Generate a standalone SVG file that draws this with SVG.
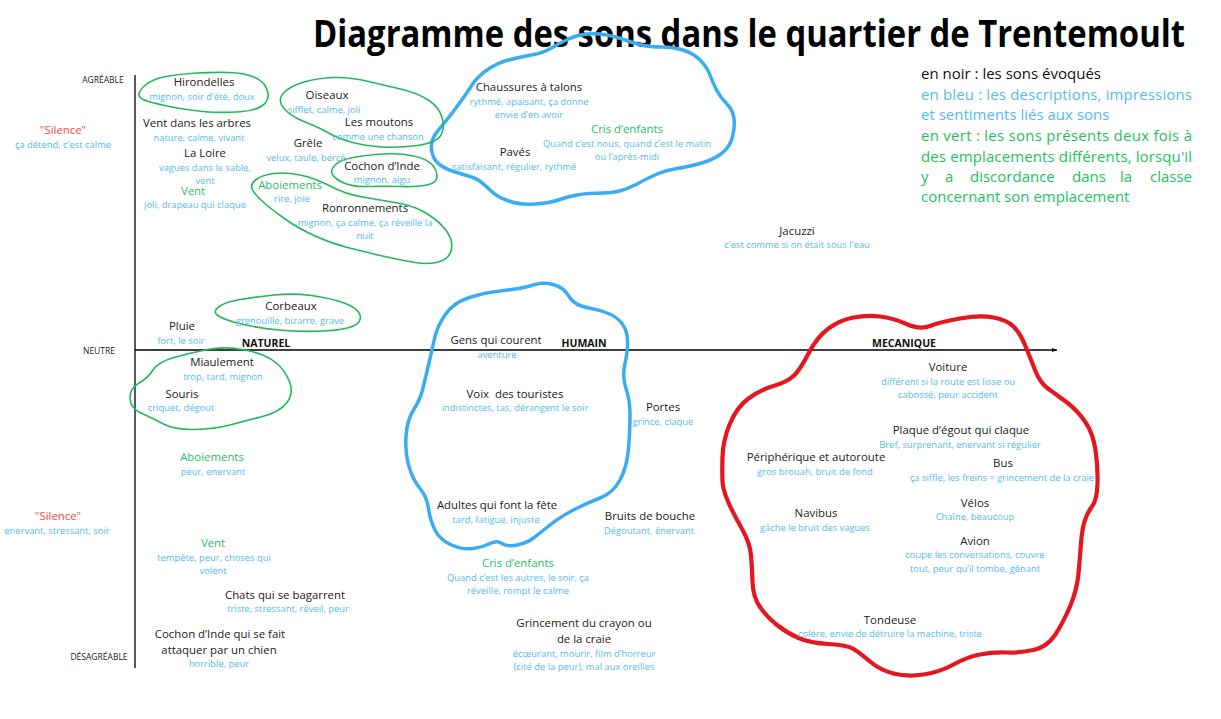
<svg xmlns="http://www.w3.org/2000/svg" width="1221" height="719" viewBox="0 0 1221 719">
<style>
text{font-family:"Open Sans","Noto Sans","Liberation Sans",sans-serif;text-anchor:middle}
.k{fill:#222;font-size:11.4px}
.b{fill:#55baf2;font-size:9.4px}
.g{fill:#1fbf5f;font-size:11.4px}
.r{fill:#ff4343;font-size:11.4px}
.ax{fill:#222;font-size:8.5px}
.cat{fill:#111;font-size:10.5px;font-weight:bold}
.leg{font-size:15px;text-anchor:start}
.cg{fill:none;stroke:#22b85c;stroke-width:1.6}
.cb{fill:none;stroke:#3aacf2;stroke-width:3.5}
.cr{fill:none;stroke:#e5161d;stroke-width:4.2}
</style>
<defs>
<marker id="arr" markerWidth="6" markerHeight="6" refX="5" refY="3" orient="auto" markerUnits="userSpaceOnUse">
<path d="M0,1 L5,3 L0,5 Z" fill="#000"/>
</marker>
</defs>
<rect width="1221" height="719" fill="#fff"/>

<g id="title">
<text x="749" y="47" style="font-size:38px;font-weight:bold;fill:#000" textLength="872" lengthAdjust="spacingAndGlyphs">Diagramme des sons dans le quartier de Trentemoult</text>
</g>

<g id="connectors">
<line x1="135" y1="75" x2="135" y2="668" stroke="#000" stroke-width="1.3"/>
<line x1="135" y1="350" x2="1057" y2="350" stroke="#000" stroke-width="1.3" marker-end="url(#arr)"/>
</g>

<g id="clouds">
<path class="cb" d="M431.5,150 Q430,140 438.5,130 Q447,120 457,106.5 Q467,93 472,85 Q477,77 487,70 Q497,63 508.5,60 Q520,57 531.5,55 Q543,53 551.5,48 Q560,43 568.5,39 Q577,35 587,34 Q597,33 607,35 Q617,37 625,40 Q633,43 641.5,45 Q650,47 661.5,47 Q673,47 683,50 Q693,53 700,60 Q707,67 710,75 Q713,83 716.5,90 Q720,97 726.5,103.5 Q733,110 734,118.5 Q735,127 732.5,137 Q730,147 721.5,153.5 Q713,160 700,163.5 Q687,167 677,168.5 Q667,170 658.5,173.5 Q650,177 635,185 Q620,193 603.5,193 Q587,193 577,195 Q567,197 558.5,200 Q550,203 535,204 Q520,205 508.5,201 Q497,197 490,190 Q483,183 478,180 Q473,177 460,173.5 Q447,170 440,165 Q433,160 431.5,150 Z"/>
<path class="cb" d="M428.5,365 Q432,350 434.5,338.5 Q437,327 445,315 Q453,303 468,298 Q483,293 496.5,291.5 Q510,290 518.5,288.5 Q527,287 535,284.5 Q543,282 553,284.5 Q563,287 568,295 Q573,303 580,305.5 Q587,308 593.5,309 Q600,310 608.5,313.5 Q617,317 622,323.5 Q627,330 627.5,340 Q628,350 625,363.5 Q622,377 626,388.5 Q630,400 630,415 Q630,430 628.5,448.5 Q627,467 620,480 Q613,493 600,498 Q587,503 573.5,510 Q560,517 550,525 Q540,533 533.5,538 Q527,543 517,545 Q507,547 502,543.5 Q497,540 490,543.5 Q483,547 473,548.5 Q463,550 451.5,545 Q440,540 435,530 Q430,520 428.5,508.5 Q427,497 420,488.5 Q413,480 409,466.5 Q405,453 406,436.5 Q407,420 413.5,410 Q420,400 422.5,390 Q425,380 428.5,365 Z"/>
<path class="cr" d="M828.5,328.5 Q840,320 853.5,317.5 Q867,315 880,316.5 Q893,318 906.5,324 Q920,330 930,326 Q940,322 960,318.5 Q980,315 993.5,317.5 Q1007,320 1013.5,326.5 Q1020,333 1025,345 Q1030,357 1035,370 Q1040,383 1048.5,389 Q1057,395 1067,402.5 Q1077,410 1085,421.5 Q1093,433 1095.5,450 Q1098,467 1097.5,483.5 Q1097,500 1092,506.5 Q1087,513 1084.5,521.5 Q1082,530 1081,543.5 Q1080,557 1078.5,573.5 Q1077,590 1070,606.5 Q1063,623 1055,635 Q1047,647 1033.5,650 Q1020,653 1006.5,652.5 Q993,652 980,654.5 Q967,657 953.5,664.5 Q940,672 923.5,674.5 Q907,677 893.5,673.5 Q880,670 870,661.5 Q860,653 853.5,649 Q847,645 828.5,644 Q810,643 798.5,638 Q787,633 777,625 Q767,617 760,607 Q753,597 752.5,582 Q752,567 751,555 Q750,543 741.5,528 Q733,513 728,501.5 Q723,490 722.5,481.5 Q722,473 722.5,456.5 Q723,440 730,423.5 Q737,407 748.5,398.5 Q760,390 773.5,386 Q787,382 793.5,376 Q800,370 808.5,353.5 Q817,337 828.5,328.5 Z"/>
<path class="cg" d="M139,95.5 Q138,92 145,85.5 Q152,79 166,76.5 Q180,74 196.5,73 Q213,72 229,72.5 Q245,73 255,77.5 Q265,82 267.5,91 Q270,100 262.5,105.5 Q255,111 236.5,112 Q218,113 202.5,111.5 Q187,110 172,107 Q157,104 148.5,101.5 Q140,99 139,95.5 Z"/>
<path class="cg" d="M283.5,108 Q277,100 283.5,93 Q290,86 304,82 Q318,78 334,77.5 Q350,77 366.5,81 Q383,85 400.5,89 Q418,93 429,100.5 Q440,108 442.5,119 Q445,130 440,136.5 Q435,143 417.5,145.5 Q400,148 382.5,147 Q365,146 351,142 Q337,138 328.5,133 Q320,128 305,122 Q290,116 283.5,108 Z"/>
<path class="cg" d="M332.5,174.5 Q330,170 335,165 Q340,160 353.5,157.5 Q367,155 383.5,154 Q400,153 413.5,156 Q427,159 432,164.5 Q437,170 437,176.5 Q437,183 427,185 Q417,187 400,186.5 Q383,186 368,186.5 Q353,187 344,183 Q335,179 332.5,174.5 Z"/>
<path class="cg" d="M253.5,191.5 Q249,185 255.5,180 Q262,175 273.5,173.5 Q285,172 300,175 Q315,178 330,186 Q345,194 362.5,197 Q380,200 397.5,203 Q415,206 427.5,214 Q440,222 446.5,231 Q453,240 451.5,249 Q450,258 440,261.5 Q430,265 415,262.5 Q400,260 382.5,256 Q365,252 347.5,247.5 Q330,243 314,235.5 Q298,228 286.5,220 Q275,212 266.5,205 Q258,198 253.5,191.5 Z"/>
<path class="cg" d="M218.5,316 Q212,312 218.5,307 Q225,302 240,299.5 Q255,297 274,295 Q293,293 311.5,295.5 Q330,298 344,303 Q358,308 360,315 Q362,322 353.5,326 Q345,330 322.5,331 Q300,332 279,330 Q258,328 241.5,324 Q225,320 218.5,316 Z"/>
<path class="cg" d="M130,398 Q130,388 139,383 Q148,378 153,370 Q158,362 174,357.5 Q190,353 207.5,349.5 Q225,346 245,350 Q265,354 275,362 Q285,370 289.5,381.5 Q294,393 287,402.5 Q280,412 262.5,416.5 Q245,421 230,425 Q215,429 195,429.5 Q175,430 163.5,424 Q152,418 141,413 Q130,408 130,398 Z"/>
</g>

<g id="axis-labels">
<text class="ax" x="103" y="83">AGRÉABLE</text>
<text class="ax" x="99" y="354">NEUTRE</text>
<text class="ax" x="99" y="660">DÉSAGRÉABLE</text>
<text class="cat" x="266" y="347">NATUREL</text>
<text class="cat" x="584" y="347">HUMAIN</text>
<text class="cat" x="904" y="347">MECANIQUE</text>
</g>

<g id="legend">
<text class="leg" x="921" y="79" fill="#111">en noir : les sons évoqués</text>
<text class="leg" x="921" y="100" fill="#55baf2" textLength="271">en bleu : les descriptions, impressions</text>
<text class="leg" x="921" y="120" fill="#55baf2">et sentiments liés aux sons</text>
<text class="leg" x="921" y="141" fill="#1fbf5f" textLength="271">en vert : les sons présents deux fois à</text>
<text class="leg" x="921" y="162" fill="#1fbf5f" textLength="271">des emplacements différents, lorsqu'il</text>
<text class="leg" x="921" y="182" fill="#1fbf5f">y</text>
<text class="leg" x="945" y="182" fill="#1fbf5f">a</text>
<text class="leg" x="970" y="182" fill="#1fbf5f">discordance</text>
<text class="leg" x="1072" y="182" fill="#1fbf5f">dans</text>
<text class="leg" x="1120" y="182" fill="#1fbf5f">la</text>
<text class="leg" x="1192" y="182" fill="#1fbf5f" style="text-anchor:end">classe</text>
<text class="leg" x="921" y="202" fill="#1fbf5f">concernant son emplacement</text>
</g>

<g id="silence-agreable"><text class="r" x="63" y="134">"Silence"</text><text class="b" x="63" y="148">ça détend, c'est calme</text></g>
<g id="hirondelles"><text class="k" x="204" y="86">Hirondelles</text><text class="b" x="202" y="100">mignon, soir d'été, doux</text></g>
<g id="vent-arbres"><text class="k" x="197" y="127">Vent dans les arbres</text><text class="b" x="199" y="141">nature, calme, vivant</text></g>
<g id="loire"><text class="k" x="205" y="157">La Loire</text><text class="b" x="205" y="171">vagues dans le sable,</text><text class="b" x="205" y="184">vent</text></g>
<g id="vent-agreable"><text class="g" x="193" y="195">Vent</text><text class="b" x="195" y="208">joli, drapeau qui claque</text></g>
<g id="oiseaux"><text class="k" x="327" y="99">Oiseaux</text><text class="b" x="324" y="113">sifflet, calme, joli</text></g>
<g id="moutons"><text class="k" x="379" y="126">Les moutons</text><text class="b" x="378" y="140">comme une chanson</text></g>
<g id="grele"><text class="k" x="308" y="147">Grêle</text><text class="b" x="306" y="161">velux, taule, bercé</text></g>
<g id="cochon-inde"><text class="k" x="382" y="170">Cochon d’Inde</text><text class="b" x="382" y="183">mignon, aigu</text></g>
<g id="aboiements-agreable"><text class="g" x="290" y="189">Aboiements</text><text class="b" x="292" y="202">rire, joie</text></g>
<g id="ronronnements"><text class="k" x="365" y="212">Ronronnements</text><text class="b" x="365" y="226">mignon, ça calme, ça réveille la</text><text class="b" x="365" y="239">nuit</text></g>
<g id="chaussures"><text class="k" x="529" y="91">Chaussures à talons</text><text class="b" x="529" y="105">rythmé, apaisant, ça donne</text><text class="b" x="529" y="118">envie d’en avoir</text></g>
<g id="cris-agreable"><text class="g" x="627" y="133">Cris d’enfants</text><text class="b" x="627" y="147">Quand c’est nous, quand c’est le matin</text><text class="b" x="627" y="160">ou l’après-midi</text></g>
<g id="paves"><text class="k" x="515" y="156">Pavés</text><text class="b" x="514" y="170">satisfaisant, régulier, rythmé</text></g>
<g id="jacuzzi"><text class="k" x="797" y="235">Jacuzzi</text><text class="b" x="797" y="248">c'est comme si on était sous l'eau</text></g>
<g id="corbeaux"><text class="k" x="291" y="310">Corbeaux</text><text class="b" x="290" y="324">grenouille, bizarre, grave</text></g>
<g id="pluie"><text class="k" x="182" y="330">Pluie</text><text class="b" x="181" y="344">fort, le soir</text></g>
<g id="miaulement"><text class="k" x="222" y="366">Miaulement</text><text class="b" x="223" y="380">trop, tard, mignon</text></g>
<g id="souris"><text class="k" x="182" y="398">Souris</text><text class="b" x="181" y="411">criquet, dégout</text></g>
<g id="gens"><text class="k" x="496" y="344">Gens qui courent</text><text class="b" x="497" y="358">aventure</text></g>
<g id="voix"><text class="k" x="515" y="398" xml:space="preserve">Voix  des touristes</text><text class="b" x="515" y="411">indistinctes, tas, dérangent le soir</text></g>
<g id="portes"><text class="k" x="663" y="411">Portes</text><text class="b" x="663" y="425">grince, claque</text></g>
<g id="adultes"><text class="k" x="497" y="509">Adultes qui font la fête</text><text class="b" x="496" y="523">tard, fatigue, injuste</text></g>
<g id="bouche"><text class="k" x="650" y="520">Bruits de bouche</text><text class="b" x="649" y="534">Dégoutant, énervant</text></g>
<g id="cris-desagreable"><text class="g" x="518" y="567">Cris d’enfants</text><text class="b" x="518" y="581">Quand c’est les autres, le soir, ça</text><text class="b" x="518" y="594">réveille, rompt le calme</text></g>
<g id="grincement"><text class="k" x="584" y="627">Grincement du crayon ou</text><text class="k" x="584" y="643">de la craie</text><text class="b" x="584" y="657">écœurant, mourir, film d’horreur</text><text class="b" x="584" y="670">(cité de la peur), mal aux oreilles</text></g>
<g id="aboiements-desagreable"><text class="g" x="212" y="461">Aboiements</text><text class="b" x="213" y="475">peur, enervant</text></g>
<g id="silence-desagreable"><text class="r" x="58" y="520">"Silence"</text><text class="b" x="57" y="534">enervant, stressant, soir</text></g>
<g id="vent-desagreable"><text class="g" x="213" y="547">Vent</text><text class="b" x="214" y="561">tempête, peur, choses qui</text><text class="b" x="213" y="574">volent</text></g>
<g id="chats"><text class="k" x="285" y="599">Chats qui se bagarrent</text><text class="b" x="288" y="612">triste, stressant, réveil, peur</text></g>
<g id="cochon-attaque"><text class="k" x="220" y="638">Cochon d’Inde qui se fait</text><text class="k" x="219" y="654">attaquer par un chien</text><text class="b" x="219" y="667">horrible, peur</text></g>
<g id="voiture"><text class="k" x="948" y="371">Voiture</text><text class="b" x="948" y="385">différent si la route est lisse ou</text><text class="b" x="948" y="398">cabossé, peur accident</text></g>
<g id="plaque"><text class="k" x="961" y="434">Plaque d’égout qui claque</text><text class="b" x="960" y="448">Bref, surprenant, enervant si régulier</text></g>
<g id="peripherique"><text class="k" x="816" y="461">Périphérique et autoroute</text><text class="b" x="815" y="475">gros brouah, bruit de fond</text></g>
<g id="bus"><text class="k" x="1003" y="467">Bus</text><text class="b" x="1002" y="481">ça siffle, les freins = grincement de la craie</text></g>
<g id="velos"><text class="k" x="975" y="507">Vélos</text><text class="b" x="975" y="520">Chaîne, beaucoup</text></g>
<g id="navibus"><text class="k" x="816" y="517">Navibus</text><text class="b" x="815" y="531">gâche le bruit des vagues</text></g>
<g id="avion"><text class="k" x="975" y="545">Avion</text><text class="b" x="975" y="558">coupe les conversations, couvre</text><text class="b" x="975" y="572">tout, peur qu’il tombe, gênant</text></g>
<g id="tondeuse"><text class="k" x="890" y="624">Tondeuse</text><text class="b" x="890" y="637">colère, envie de détruire la machine, triste</text></g>
</svg>
